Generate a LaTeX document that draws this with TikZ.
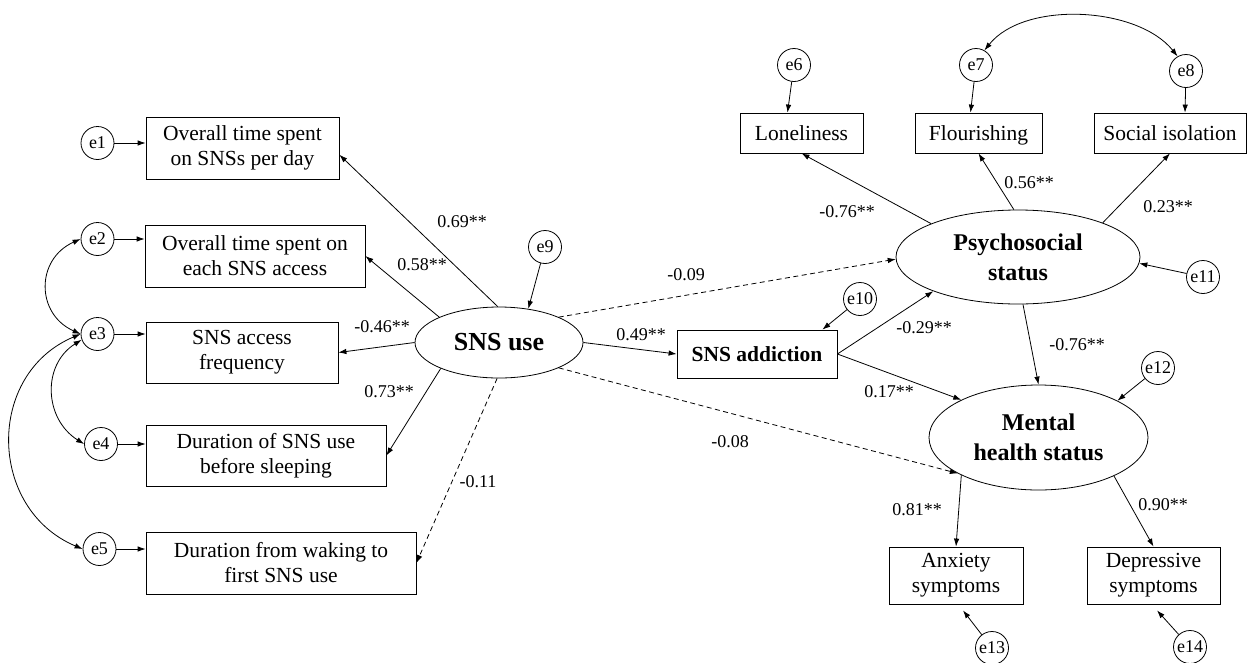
\documentclass[tikz,border=0pt]{standalone}
\usepackage{fontspec}
\setmainfont{Liberation Serif}
\usetikzlibrary{shapes.geometric,arrows.meta}
\begin{document}
\begin{tikzpicture}[x=1pt,y=-1pt,
  every node/.style={inner sep=0pt},
  obs/.style={draw, line width=0.8pt, align=center, font=\fontsize{21.5}{25}\selectfont},
  oneline/.style={text height=14.5pt, text depth=0pt},
  lat/.style={draw, ellipse, line width=0.8pt, align=center, font=\bfseries\fontsize{24}{30}\selectfont},
  err/.style={draw, circle, minimum size=33pt, line width=0.8pt, font=\fontsize{18}{18}\selectfont},
  coef/.style={font=\fontsize{18}{18}\selectfont},
  arr/.style={-{Latex[length=8pt,width=5.5pt]}, line width=0.8pt},
  darr/.style={arr, dash pattern=on 5pt off 3.5pt},
  carr/.style={{Latex[length=8pt,width=5.5pt]}-{Latex[length=8pt,width=5.5pt]}, line width=0.8pt}]
\useasboundingbox[fill=white] (0,0) rectangle (1257,662);

% observed indicators of SNS use
\node[obs, minimum width=193pt, minimum height=62pt] (b1) at (242.5,148) {Overall time spent\\on SNSs per day};
\node[obs, minimum width=220pt, minimum height=62pt] (b2) at (255,256) {Overall time spent on\\each SNS access};
\node[obs, minimum width=192pt, minimum height=61pt] (b3) at (242,352.5) {SNS access\\frequency};
\node[obs, minimum width=240pt, minimum height=61pt] (b4) at (266,455.5) {Duration of SNS use\\before sleeping};
\node[obs, minimum width=270pt, minimum height=62pt] (b5) at (281,563) {Duration from waking to\\first SNS use};

% latent variables
\node[lat, minimum width=168pt, minimum height=71pt, font=\bfseries\fontsize{26}{30}\selectfont] (sns) at (499,342.5) {SNS use};
\node[obs, oneline, minimum width=160pt, minimum height=48pt, font=\bfseries\fontsize{21.5}{25}\selectfont] (add) at (757,354) {SNS addiction};
\node[lat, minimum width=244pt, minimum height=94pt] (ps) at (1018,257) {Psychosocial\\status};
\node[lat, minimum width=219pt, minimum height=105pt] (mh) at (1038.5,437.5) {Mental\\health status};

% psychosocial indicators
\node[obs, oneline, minimum width=123pt, minimum height=40pt] (lon) at (801.5,133) {Loneliness};
\node[obs, oneline, minimum width=127pt, minimum height=40pt] (flo) at (978.5,133) {Flourishing};
\node[obs, oneline, minimum width=152pt, minimum height=40pt] (soc) at (1170,133) {Social isolation};

% mental health indicators
\node[obs, minimum width=134pt, minimum height=57pt] (anx) at (956,575.5) {Anxiety\\symptoms};
\node[obs, minimum width=133pt, minimum height=57pt] (dep) at (1153.5,575.5) {Depressive\\symptoms};

% error terms
\node[err] (e1) at (97.5,143) {e1};
\node[err] (e2) at (97.5,239) {e2};
\node[err] (e3) at (97.5,334) {e3};
\node[err] (e4) at (101,444) {e4};
\node[err] (e5) at (99.5,549) {e5};
\node[err] (e6) at (794,65) {e6};
\node[err] (e7) at (976,65) {e7};
\node[err] (e8) at (1186,71) {e8};
\node[err] (e9) at (545,247) {e9};
\node[err] (e10) at (860,299) {e10};
\node[err] (e11) at (1203,277) {e11};
\node[err] (e12) at (1158,368) {e12};
\node[err] (e13) at (992,648) {e13};
\node[err] (e14) at (1190,647) {e14};

% error arrows
\draw[arr] (e1) -- (e1 -| b1.west);
\draw[arr] (e2) -- (e2 -| b2.west);
\draw[arr] (e3) -- (e3 -| b3.west);
\draw[arr] (e4) -- (e4 -| b4.west);
\draw[arr] (e5) -- (e5 -| b5.west);
\draw[arr] (e6) -- ([xshift=-14pt]lon.north);
\draw[arr] (e7) -- ([xshift=-8pt]flo.north);
\draw[arr] (e8) -- ([xshift=15pt]soc.north);
\draw[arr] (e9) -- (sns.49);
\draw[arr] (e10) -- ([xshift=-15pt]add.north east);
\draw[arr] (e11) -- (ps.-3);
\draw[arr] (e12) -- (mh.25);
\draw[arr] (e13) -- ([xshift=7pt,yshift=-6pt]anx.south);
\draw[arr] (e14) -- ([xshift=3.5pt,yshift=-6pt]dep.south);

% covariances
\draw[carr] (e2.west) .. controls +(-45,20) and +(-45,-20) .. (e3.west);
\draw[carr] (e3.200) .. controls +(-40,25) and +(-40,-25) .. (e4.west);
\draw[carr] (e3.west) .. controls +(-95,40) and +(-95,-40) .. (e5.west);
\draw[carr] (e7.60) .. controls +(40,-50) and +(-40,-50) .. (e8.120);

% structural paths
\draw[arr] (sns.92) -- (b1.-4);
\draw[arr] (sns.157) -- (b2.east);
\draw[arr] (sns.west) -- (b3.east);
\draw[arr] (sns.204) -- (b4.east);
\draw[darr] (sns.267) -- (b5.east);
\draw[arr] (sns.east) -- (add.west);
\draw[darr] (sns.23) -- (ps.181);
\draw[darr] (sns.-23) -- (mh.204);
\draw[arr] (add.east) -- (ps.202);
\draw[arr] (add.east) -- (mh.154);
\draw[arr] (ps.-84) -- (mh.north);
\draw[arr] (ps.159) -- (lon.south);
\draw[arr] (ps.95) -- (flo.south);
\draw[arr] (ps.22.5) -- (soc.south);
\draw[arr] (mh.206) -- (anx.north);
\draw[arr] (mh.-27) -- (dep.north);

% coefficients
\node[coef] (c1) at (462,222) {0.69**};
\node[coef] (c2) at (422,265) {0.58**};
\node[coef] (c3) at (382,327) {-0.46**};
\node[coef] (c4) at (389,392) {0.73**};
\node[coef] (c5) at (478,482) {-0.11};
\node[coef] (c6) at (641,335) {0.49**};
\node[coef] (c7) at (686,275) {-0.09};
\node[coef] (c8) at (730,442) {-0.08};
\node[coef] (c9) at (847,212) {-0.76**};
\node[coef] (c10) at (1029,183) {0.56**};
\node[coef] (c11) at (1168,207) {0.23**};
\node[coef] (c12) at (924,328) {-0.29**};
\node[coef] (c13) at (889,392) {0.17**};
\node[coef] (c14) at (1077,345) {-0.76**};
\node[coef] (c15) at (917,510) {0.81**};
\node[coef] (c16) at (1163,505) {0.90**};
\end{tikzpicture}
\end{document}
